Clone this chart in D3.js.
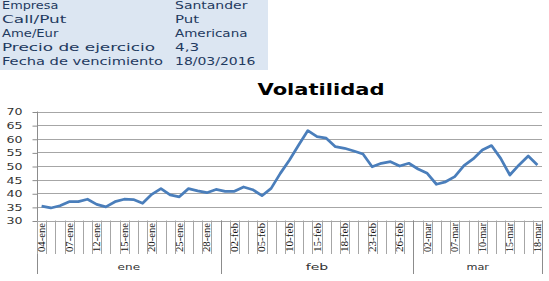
<!DOCTYPE html>
<html>
<head>
<meta charset="utf-8">
<script src="https://cdn.jsdelivr.net/npm/d3@7"></script>
<style>
  body { margin: 0; background: #fff; }
  text { font-family: "DejaVu Sans", sans-serif; }
</style>
</head>
<body>
<div id="chart"></div>
<script>
// header table
var infoLabels = ["Empresa", "Call/Put", "Ame/Eur", "Precio de ejercicio", "Fecha de vencimiento"];
var infoValues = ["Santander", "Put", "Americana", "4,3", "18/03/2016"];

// trading days (category axis)
var days = [
  "04-ene","05-ene","06-ene","07-ene","08-ene","11-ene","12-ene","13-ene","14-ene","15-ene",
  "18-ene","19-ene","20-ene","21-ene","22-ene","25-ene","26-ene","27-ene","28-ene","29-ene",
  "01-feb","02-feb","03-feb","04-feb","05-feb","08-feb","09-feb","10-feb","11-feb","12-feb",
  "15-feb","16-feb","17-feb","18-feb","19-feb","22-feb","23-feb","24-feb","25-feb","26-feb","29-feb",
  "01-mar","02-mar","03-mar","04-mar","07-mar","08-mar","09-mar","10-mar","11-mar","14-mar",
  "15-mar","16-mar","17-mar","18-mar"
];
var volatility = [
  35.3, 34.6, 35.4, 36.9, 36.9, 37.8, 35.9, 35.0, 36.9, 37.8,
  37.7, 36.3, 39.6, 41.7, 39.4, 38.7, 41.7, 40.9, 40.2, 41.4,
  40.7, 40.7, 42.3, 41.3, 39.1, 41.8, 47.3, 52.2, 57.7, 63.0,
  60.8, 60.2, 57.1, 56.5, 55.5, 54.4, 49.7, 51.0, 51.6, 50.0, 51.0,
  48.9, 47.3, 43.3, 44.2, 46.1, 50.1, 52.6, 55.9, 57.5, 52.8,
  46.7, 50.4, 53.7, 50.4
];
var months = ["ene", "feb", "mar"];
var yTicks = [30, 35, 40, 45, 50, 55, 60, 65, 70];

var svgWidth = 549, svgHeight = 281;
var plot = { left: 37, right: 542, top: 111.5, bottom: 220.5 };

var svg = d3.select("#chart").append("svg")
  .attr("width", svgWidth)
  .attr("height", svgHeight);

// ---- header table ----
svg.append("rect")
  .attr("x", 0).attr("y", 0)
  .attr("width", 268).attr("height", 70)
  .attr("fill", "#dce6f2");

infoLabels.forEach(function (lab, i) {
  var y = 9 + i * 14;
  svg.append("text")
    .attr("x", 2).attr("y", y)
    .attr("font-size", "10.5px")
    .attr("fill", "#1f3a60")
    .attr("textLength", lab.length * 8.05)
    .attr("lengthAdjust", "spacingAndGlyphs")
    .text(lab);
  svg.append("text")
    .attr("x", 175).attr("y", y)
    .attr("font-size", "10.5px")
    .attr("fill", "#1f3a60")
    .attr("textLength", infoValues[i].length * 8.05)
    .attr("lengthAdjust", "spacingAndGlyphs")
    .text(infoValues[i]);
});

// ---- title ----
svg.append("text")
  .attr("x", 321).attr("y", 95)
  .attr("text-anchor", "middle")
  .attr("font-size", "16px")
  .attr("font-weight", "bold")
  .attr("fill", "#000")
  .attr("textLength", 127)
  .attr("lengthAdjust", "spacingAndGlyphs")
  .text("Volatilidad");

// ---- scales ----
var xScale = d3.scaleBand()
  .domain(days)
  .range([plot.left, plot.right])
  .padding(0);

var yScale = d3.scaleLinear()
  .domain([30, 70])
  .range([plot.bottom, plot.top]);

// gridlines
svg.append("g").selectAll("line")
  .data(yTicks)
  .enter().append("line")
  .attr("x1", plot.left).attr("x2", plot.right)
  .attr("y1", d => Math.round(yScale(d)) + 0.5)
  .attr("y2", d => Math.round(yScale(d)) + 0.5)
  .attr("stroke", "#a6a6a6")
  .attr("stroke-width", 1);

// y axis
var leftAxis = d3.axisLeft(yScale)
  .tickValues(yTicks)
  .tickSize(5)
  .tickFormat(d3.format("d"));
var yAxisG = svg.append("g")
  .attr("transform", `translate(${plot.left + 0.5}, 0.5)`)
  .call(leftAxis);
yAxisG.select(".domain").remove();
yAxisG.selectAll(".tick line").attr("stroke", "#8c8c8c");
yAxisG.selectAll(".tick text")
  .attr("x", -15)
  .attr("font-size", "9px")
  .attr("fill", "#333")
  .attr("textLength", 16)
  .attr("lengthAdjust", "spacingAndGlyphs")
  .style("font-family", "DejaVu Sans");

// left axis line (extends down through label area)
svg.append("line")
  .attr("x1", plot.left + 0.5).attr("x2", plot.left + 0.5)
  .attr("y1", plot.top).attr("y2", 274)
  .attr("stroke", "#8c8c8c");

// category tick lines (every category boundary)
var bounds = days.map(d => xScale(d)).concat([plot.right]);
svg.append("g").selectAll("line")
  .data(bounds)
  .enter().append("line")
  .attr("x1", d => Math.round(d) + 0.5).attr("x2", d => Math.round(d) + 0.5)
  .attr("y1", plot.bottom).attr("y2", 254)
  .attr("stroke", "#a6a6a6");

// category labels every 3rd day
svg.append("g").selectAll("text")
  .data(days.filter((d, i) => i % 3 === 0))
  .enter().append("text")
  .attr("transform", d => `translate(${xScale(d) + xScale.bandwidth() / 2 + 3.5}, 223) rotate(-90)`)
  .attr("text-anchor", "end")
  .attr("font-size", "9.5px")
  .attr("fill", "#111")
  .attr("textLength", 29)
  .attr("lengthAdjust", "spacingAndGlyphs")
  .style("font-family", "Liberation Serif")
  .text(d => d);

// month groups
var monthSpans = months.map(function (m) {
  var idx = days.map((d, i) => d.endsWith(m) ? i : -1).filter(i => i >= 0);
  return { name: m, x0: xScale(days[idx[0]]), x1: xScale(days[idx[idx.length - 1]]) + xScale.bandwidth() };
});
svg.append("g").selectAll("line")
  .data(monthSpans)
  .enter().append("line")
  .attr("x1", d => Math.round(d.x1) + 0.5).attr("x2", d => Math.round(d.x1) + 0.5)
  .attr("y1", plot.bottom).attr("y2", 274)
  .attr("stroke", "#8c8c8c");
svg.append("g").selectAll("text")
  .data(monthSpans)
  .enter().append("text")
  .attr("x", d => (d.x0 + d.x1) / 2)
  .attr("y", 270)
  .attr("text-anchor", "middle")
  .attr("font-size", "9px")
  .attr("fill", "#333")
  .attr("textLength", d => d.name.length * 7.5)
  .attr("lengthAdjust", "spacingAndGlyphs")
  .text(d => d.name);

// volatility line
var line = d3.line()
  .x((d, i) => xScale(days[i]) + xScale.bandwidth() / 2)
  .y(d => yScale(d));
svg.append("path")
  .datum(volatility)
  .attr("d", line)
  .attr("fill", "none")
  .attr("stroke", "#4a7ebb")
  .attr("stroke-width", 2.75)
  .attr("stroke-linejoin", "round");
</script>
</body>
</html>
